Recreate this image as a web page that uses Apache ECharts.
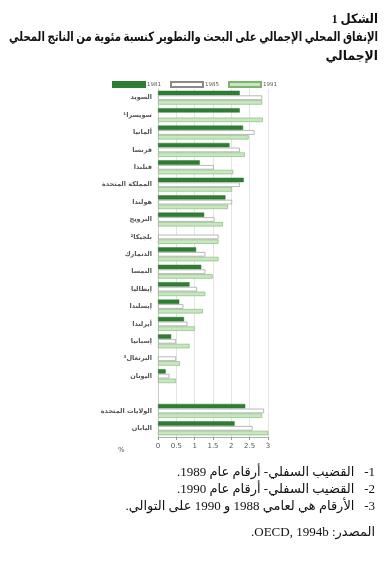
<!DOCTYPE html>
<html><head><meta charset="utf-8">
<script src="https://cdn.jsdelivr.net/npm/echarts@6/dist/echarts.min.js"></script>
<style>html,body{margin:0;padding:0;background:#fff}#c{width:386px;height:565px}</style>
</head><body>
<div id="c" dir="rtl"></div>
<script>
const categories = ['السويد','سويسرا¹','ألمانيا','فرنسا','فنلندا','المملكة المتحدة','هولندا','النرويج','بلجيكا²','الدنمارك','النمسا','إيطاليا','إيسلندا','أيرلندا','إسبانيا','البرتغال³','اليونان','','الولايات المتحدة','اليابان'];
const seriesNames = ['1981','1985','1991'];
const v1981 = [2.23,2.23,2.32,1.95,1.14,2.34,1.84,1.26,null,1.04,1.18,0.86,0.58,0.71,0.36,null,0.21,null,2.38,2.09];
const v1985 = [2.84,null,2.63,2.23,1.52,2.23,2.02,1.54,1.65,1.29,1.29,1.06,0.69,0.80,0.49,0.49,0.31,null,2.89,2.58];
const v1991 = [2.84,2.86,2.47,2.37,2.05,2.02,1.91,1.77,1.65,1.65,1.49,1.29,1.22,1.00,0.86,0.60,0.49,null,2.84,3.02];
const xTicks = [0,0.5,1,1.5,2,2.5,3];
const titleLines = ['الشكل 1','الإنفاق المحلي الإجمالي على البحث والتطوير كنسبة مئوية من الناتج المحلي','الإجمالي'];
const notes = ['1-   القضيب السفلي- أرقام عام 1989.','2-   القضيب السفلي- أرقام عام 1990.','3-   الأرقام هي لعامي 1988 و 1990 على التوالي.'];
const source = 'المصدر: OECD, 1994b.';

const serif = "'Liberation Serif','DejaVu Sans',serif";
const chart = echarts.init(document.getElementById('c'), null, {renderer:'canvas'});
const styles = [
  {color:'#2e7d32', borderColor:'#2e7d32', borderWidth:0.5},
  {color:'#ffffff', borderColor:'#8a8a8a', borderWidth:0.6},
  {color:'#c8e6c0', borderColor:'#7cb56e', borderWidth:0.6}
];
const vals = [v1981, v1985, v1991];
const graphics = [];
const tY = [20,38,57], tS = [0.9,0.78,0.95];
titleLines.forEach((t,i)=>{
  graphics.push({type:'text', x:378, y:tY[i], scaleX:tS[i], style:{text:t, font:"bold 13px "+serif, fill:'#111', textAlign:'right', textVerticalAlign:'middle'}});
});
notes.forEach((t,i)=>{
  graphics.push({type:'text', x:375, y:473+i*17, style:{text:t, font:"13px "+serif, fill:'#111', textAlign:'right', textVerticalAlign:'middle'}});
});
graphics.push({type:'text', x:375, y:533, style:{text:source, font:"13px "+serif, fill:'#111', textAlign:'right', textVerticalAlign:'middle'}});
graphics.push({type:'text', x:118, y:450, style:{text:'%', font:"7px 'DejaVu Sans',sans-serif", fill:'#555', textVerticalAlign:'middle'}});

chart.setOption({
  animation:false,
  backgroundColor:'#fff',
  legend:{left:112, top:81, padding:0, itemWidth:32, itemHeight:5, itemGap:9, icon:'rect',
    textStyle:{fontSize:5.5, color:'#555', fontFamily:'DejaVu Sans', padding:[0,0,0,-3]}, data:seriesNames},
  grid:{left:158, right:118, top:89, bottom:128, containLabel:false},
  xAxis:{type:'value', min:0, max:3, interval:0.5,
    axisLine:{show:true, lineStyle:{color:'#999', width:0.8}},
    axisTick:{show:true, length:3, lineStyle:{color:'#999'}},
    axisLabel:{fontSize:7, color:'#555', margin:6, fontFamily:'DejaVu Sans', formatter:v=>String(v)},
    splitLine:{show:true, lineStyle:{color:'#ddd', width:0.8}}},
  yAxis:{type:'category', data:categories, inverse:true,
    axisLine:{show:true, lineStyle:{color:'#bbb', width:0.6}},
    axisTick:{show:false},
    axisLabel:{fontSize:6.5, fontWeight:'bold', color:'#555', margin:6, padding:[7,0,0,0], fontFamily:'DejaVu Sans'}},
  series: seriesNames.map((n,i)=>({
    name:n, type:'bar', data:vals[i], barWidth:4.4, barGap:'8%',
    itemStyle:styles[i]
  })),
  graphic:graphics
});
</script>
</body></html>
